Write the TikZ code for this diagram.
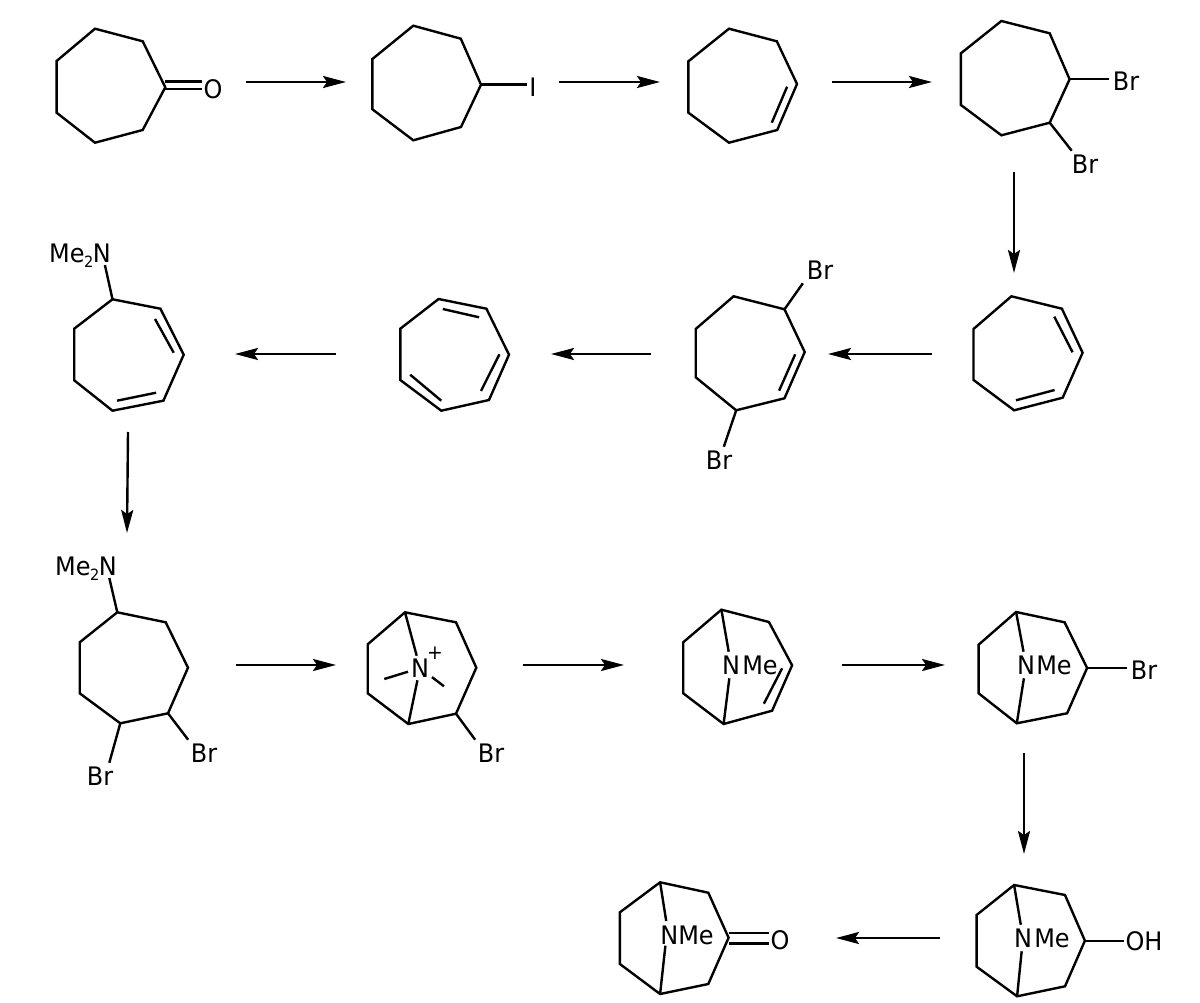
\documentclass[tikz,border=0pt]{standalone}
\usepackage{fontspec}
\setmainfont[FakeStretch=0.94]{DejaVu Sans}
\usepackage{tikz}
\usetikzlibrary{arrows.meta,calc}
\tikzset{
  bond/.style={line width=2.4pt,black},
  rxn/.style={line width=2.4pt,black,-{Stealth[length=23pt,width=12pt,inset=4pt]}},
  atom/.style={inner sep=4pt,outer sep=0pt,font=\fontsize{25.5}{30}\selectfont}
}
\newcommand{\MeTwoN}{Me\kern-0.5pt\raisebox{-5pt}{\fontsize{15.5}{15}\selectfont 2}\kern-0.5ptN}
\begin{document}
\begin{tikzpicture}[x=1pt,y=-1pt]
\useasboundingbox (0,0) rectangle (1200,1003);
% Reaction arrows
\foreach \name/\xa/\ya/\xb/\yb in {
    a/246/82/346/82, b/559/82/660/82, c/832/82/932/82, d/1014/172/1014/273,
    e/932/354/828/354, f/651/354/551/354, g/336/354/235/354, h/128/432/127/533,
    i/236/665/336/665, j/523/665/624/665, k/842/665/945/665, l/1024/753/1024/854,
    m/940/938/836/938} {
  \coordinate (\name from) at (\xa,\ya);
  \coordinate (\name to) at (\xb,\yb);
  \draw[rxn] (\name from) -- (\name to);
}
% Cycloheptanone
\draw[bond] (56.6,61) -- (95,28.7) -- (142.7,41.3) -- (165.3,87.3) -- (142.7,130) -- (95,142.7) -- (56.6,112.7) -- cycle;
\node[atom,inner sep=2pt] (oxoA) at (213,89.5) {O};
\coordinate (coA) at (165,81.7);
\coordinate (coB) at (165,89.3);
\draw[bond] (coA) -- (coA -| oxoA.west);
\draw[bond] (coB) -- (coB -| oxoA.west);
% Iodide
\draw[bond] (372.4,59) -- (413.3,25.7) -- (460.8,38.7) -- (481,84.7) coordinate (cI) -- (461,127) -- (413.3,140.3) -- (372.4,109.3) -- cycle;
\node[atom,inner sep=2pt] (iodo) at (533,87) {I};
\draw[bond] (cI) -- (cI -| iodo.west);
% Cycloheptene
\draw[bond] (688.4,61.3) -- (729,28.7) -- (776.8,41.3) -- (797,84) -- (777.2,130) -- (729,142.7) -- (688.4,112.7) -- cycle;
\draw[bond] (787.1,86.7) -- (771.8,122.7);
% Dibromide
\draw[bond] (960.9,53.3) -- (1001.4,21) -- (1049.7,33.3) -- (1069.6,79.3) coordinate (cBrA) -- (1049.7,122.7) coordinate (cBrB) -- (1001.4,135.3) -- (960.9,105) -- cycle;
\node[atom] (brA) at (1126,81) {Br};
\node[atom] (brB) at (1085,164) {Br};
\draw[bond] (cBrA) -- (cBrA -| brA.west);
\draw[bond] (cBrB) -- (brB.135);
% Cycloheptadiene
\draw[bond] (973.5,329) -- (1011.4,296.3) -- (1061.9,308.7) -- (1082.6,352.7) -- (1062.7,397.7) -- (1014.1,410.3) -- (973.5,380) -- cycle;
\draw[bond] (1054.3,316.7) -- (1072.6,352.3);
\draw[bond] (1054.6,390) -- (1016,400.3);
% Dibromocycloheptene
\draw[bond] (695.7,329) -- (733.6,296.3) -- (784.5,309.3) coordinate (cBrC) -- (804.7,352) -- (784.5,398.3) -- (736.2,410.3) coordinate (cBrD) -- (695.7,377.3) -- cycle;
\draw[bond] (795.2,354.3) -- (779.1,390.7);
\node[atom] (brC) at (820,270) {Br};
\node[atom] (brD) at (719,460) {Br};
\draw[bond] (cBrC) -- (brC.south west);
\draw[bond] (cBrD) -- (brD.70);
% Cycloheptatriene
\draw[bond] (400.3,328.7) -- (438.6,299) -- (486.4,308.7) -- (509,354.7) -- (489,400) -- (441.3,410.7) -- (400.3,380) -- cycle;
\draw[bond] (442.8,309) -- (479.1,317.3);
\draw[bond] (499.4,354.3) -- (481,391);
\draw[bond] (441.3,400.7) -- (410.2,374.7);
% Dimethylamino diene
\draw[bond] (74.2,328.7) -- (112.5,299.3) coordinate (cNa) -- (160.4,308.7) -- (183.7,354.7) -- (163.4,400.7) -- (112.5,410.7) -- (74.2,380.3) -- cycle;
\draw[bond] (155,319) -- (173.7,352.7);
\draw[bond] (156.1,392.7) -- (117.1,400.7);
\node[atom,inner sep=0pt] (nmeA) at (80,256) {\MeTwoN};
\coordinate (nA) at (104.9,265);
\draw[bond] (cNa) -- (nA);
% Dimethylamino dibromide
\draw[bond] (79.7,642.3) -- (117.3,612.3) coordinate (cNb) -- (165.7,622.3) -- (188,667.7) -- (168,713.3) coordinate (cBrE) -- (120.3,723.3) coordinate (cBrF) -- (79.7,693.3) -- cycle;
\node[atom,inner sep=0pt] (nmeB) at (86,569) {\MeTwoN};
\coordinate (nB) at (109.3,578);
\node[atom] (brE) at (204,753) {Br};
\node[atom] (brF) at (100,776) {Br};
\draw[bond] (cNb) -- (nB);
\draw[bond] (cBrE) -- (brE.140);
\draw[bond] (cBrF) -- (brF.55);
% Ammonium salt
\draw[bond] (367.7,644.3) -- (405,612.3) coordinate (tA) -- (456,622.3) -- (476.3,667.7) -- (456,713.7) coordinate (cBrG) -- (408.3,724) coordinate (bA) -- (367.7,693.3) -- cycle;
\node[atom,inner sep=3pt] (nPlus) at (420,668) {N};
\node[atom,inner sep=0pt,font=\fontsize{20}{24}\selectfont] (charge) at (435,653) {+};
\node[atom] (brG) at (491,753) {Br};
\coordinate (meL) at (384.3,679);
\coordinate (meR) at (444,686.3);
\draw[bond] (tA) -- (nPlus);
\draw[bond] (bA) -- (nPlus);
\draw[bond] (meL) -- (nPlus);
\draw[bond] (meR) -- (nPlus);
\draw[bond] (cBrG) -- (brG.140);
% Tropene
\draw[bond] (683.2,642.3) -- (721.4,609.7) coordinate (tB) -- (768.9,622) -- (792.1,665.3) -- (772.1,710.7) -- (723.6,724) coordinate (bB) -- (683.2,693.3) -- cycle;
\draw[bond] (782.1,668.3) -- (763.9,703.7);
\node[atom] (nB1) at (731,665) {N};
\node[atom,inner sep=0pt] (meB1) at (760,665) {Me};
\draw[bond] (tB) -- (nB1);
\draw[bond] (bB) -- (nB1);
% Bromotropane
\draw[bond] (978.6,644.7) -- (1016.1,612) coordinate (tC) -- (1064.6,622.3) -- (1087.1,668) coordinate (cBrH) -- (1067.1,713.3) -- (1016.8,723.3) coordinate (bC) -- (978.6,693.3) -- cycle;
\node[atom] (nC1) at (1026,665) {N};
\node[atom,inner sep=0pt] (meC1) at (1054,665) {Me};
\node[atom] (brH) at (1144,670) {Br};
\draw[bond] (tC) -- (nC1);
\draw[bond] (bC) -- (nC1);
\draw[bond] (cBrH) -- (cBrH -| brH.west);
% Tropine
\draw[bond] (976.6,915) -- (1014.1,885) coordinate (tD) -- (1065,895) -- (1084.9,940.7) coordinate (cOH) -- (1065,986.3) -- (1017.1,996.3) coordinate (bD) -- (976.6,966.7) -- cycle;
\node[atom] (nD1) at (1023,938) {N};
\node[atom,inner sep=0pt] (meD1) at (1052,938) {Me};
\node[atom,inner sep=2pt] (hydroxy) at (1144,941) {OH};
\draw[bond] (tD) -- (nD1);
\draw[bond] (bD) -- (nD1);
\draw[bond] (cOH) -- (cOH -| hydroxy.west);
% Tropinone
\draw[bond] (619.9,912.3) -- (660.1,882.3) coordinate (tE) -- (708.3,892.7) -- (728.6,937.7) -- (708.3,984) -- (660.1,994) coordinate (bE) -- (619.9,964) -- cycle;
\node[atom,inner sep=0pt] (nmeE) at (687,935) {NMe};
\node[atom,inner sep=2pt] (oxoB) at (780,940) {O};
\coordinate (coC) at (728.6,933);
\coordinate (coD) at (728.6,943.3);
\draw[bond] (tE) -- (666.2,921);
\draw[bond] (bE) -- (665.4,945.7);
\draw[bond] (coC) -- (coC -| oxoB.west);
\draw[bond] (coD) -- (coD -| oxoB.west);
\end{tikzpicture}
\end{document}
